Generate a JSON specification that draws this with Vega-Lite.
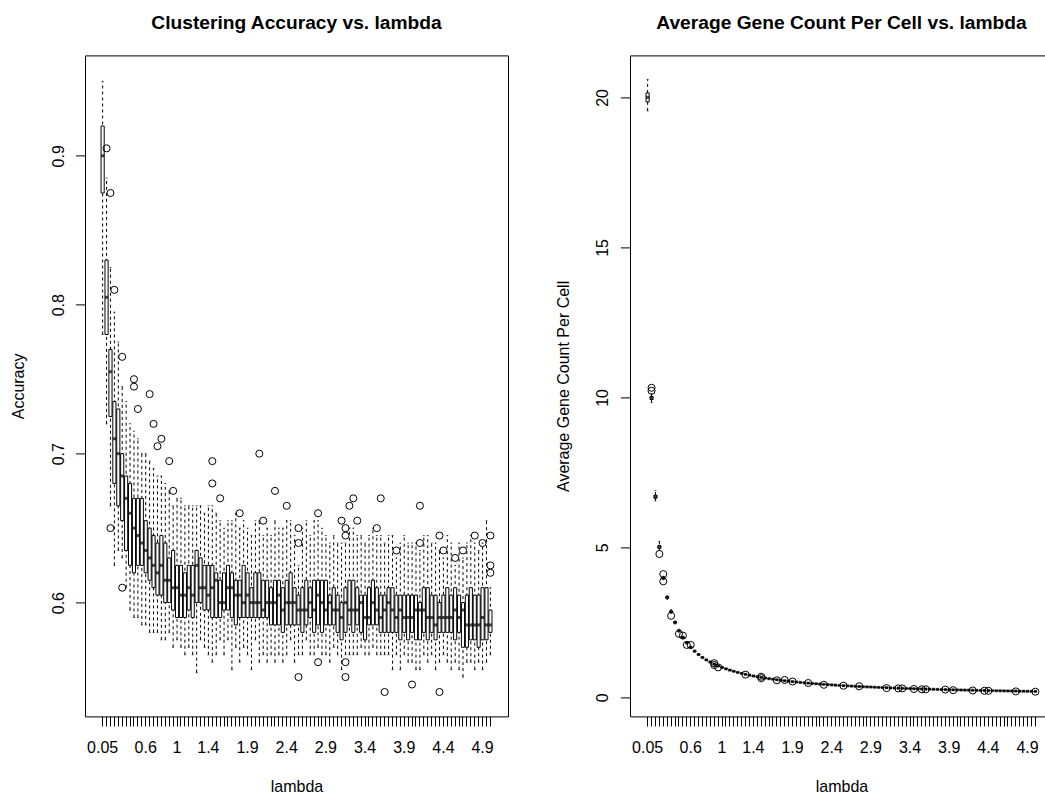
{
"$schema": "https://vega.github.io/schema/vega-lite/v6.json",
"padding": {"left": 9, "top": 12.4, "right": 0, "bottom": 0},
"spacing": 46,
"background": "white",
"resolve": {"scale": {"x": "independent", "y": "independent"}},
"config": {
 "font": "Liberation Sans",
 "view": {"stroke": "black", "strokeWidth": 1},
 "axis": {"domain": false, "grid": false, "tickColor": "black", "tickSize": 9.6, "tickWidth": 1, "labelColor": "black", "labelFontSize": 16, "labelFont": "Liberation Sans", "titleFont": "Liberation Sans", "titleFontSize": 16, "titleFontWeight": "normal", "titleColor": "black", "labelOverlap": false, "labelFlush": false, "labelBound": false},
 "axisY": {"labelAngle": -90, "labelAlign": "center", "labelBaseline": "middle", "labelPadding": 17.4, "titleBaseline": "middle", "titleAngle": -90},
 "axisX": {"labelAngle": 0, "labelAlign": "center", "labelBaseline": "middle", "labelPadding": 21.7, "titleBaseline": "middle", "titleY": 70.3},
 "title": {"fontSize": 19.2, "fontWeight": "bold", "font": "Liberation Sans", "color": "black", "anchor": "middle", "baseline": "middle", "offset": 22.4}
},
"datasets": {
 "acc": [
  {"lambda":0.05,"lo":0.78,"q1":0.875,"med":0.9,"q3":0.92,"hi":0.95},
  {"lambda":0.1,"lo":0.72,"q1":0.78,"med":0.805,"q3":0.83,"hi":0.885},
  {"lambda":0.15,"lo":0.665,"q1":0.725,"med":0.755,"q3":0.77,"hi":0.825},
  {"lambda":0.2,"lo":0.625,"q1":0.68,"med":0.71,"q3":0.735,"hi":0.795},
  {"lambda":0.25,"lo":0.635,"q1":0.665,"med":0.7,"q3":0.73,"hi":0.775},
  {"lambda":0.3,"lo":0.63,"q1":0.655,"med":0.685,"q3":0.7,"hi":0.745},
  {"lambda":0.35,"lo":0.61,"q1":0.635,"med":0.67,"q3":0.685,"hi":0.735},
  {"lambda":0.4,"lo":0.595,"q1":0.625,"med":0.66,"q3":0.68,"hi":0.72},
  {"lambda":0.45,"lo":0.59,"q1":0.62,"med":0.65,"q3":0.67,"hi":0.715},
  {"lambda":0.5,"lo":0.59,"q1":0.625,"med":0.645,"q3":0.67,"hi":0.71},
  {"lambda":0.55,"lo":0.585,"q1":0.625,"med":0.64,"q3":0.67,"hi":0.7},
  {"lambda":0.6,"lo":0.585,"q1":0.62,"med":0.635,"q3":0.655,"hi":0.7},
  {"lambda":0.65,"lo":0.58,"q1":0.615,"med":0.63,"q3":0.65,"hi":0.695},
  {"lambda":0.7,"lo":0.58,"q1":0.61,"med":0.625,"q3":0.645,"hi":0.69},
  {"lambda":0.75,"lo":0.58,"q1":0.605,"med":0.62,"q3":0.64,"hi":0.685},
  {"lambda":0.8,"lo":0.575,"q1":0.605,"med":0.625,"q3":0.645,"hi":0.685},
  {"lambda":0.85,"lo":0.575,"q1":0.6,"med":0.615,"q3":0.64,"hi":0.68},
  {"lambda":0.9,"lo":0.58,"q1":0.6,"med":0.615,"q3":0.63,"hi":0.675},
  {"lambda":0.95,"lo":0.57,"q1":0.595,"med":0.61,"q3":0.635,"hi":0.665},
  {"lambda":1,"lo":0.575,"q1":0.59,"med":0.61,"q3":0.625,"hi":0.67},
  {"lambda":1.05,"lo":0.57,"q1":0.59,"med":0.605,"q3":0.625,"hi":0.67},
  {"lambda":1.1,"lo":0.565,"q1":0.59,"med":0.605,"q3":0.62,"hi":0.665},
  {"lambda":1.15,"lo":0.57,"q1":0.595,"med":0.61,"q3":0.625,"hi":0.665},
  {"lambda":1.2,"lo":0.565,"q1":0.59,"med":0.605,"q3":0.625,"hi":0.665},
  {"lambda":1.25,"lo":0.553,"q1":0.6,"med":0.625,"q3":0.635,"hi":0.665},
  {"lambda":1.3,"lo":0.575,"q1":0.6,"med":0.61,"q3":0.63,"hi":0.665},
  {"lambda":1.35,"lo":0.57,"q1":0.595,"med":0.61,"q3":0.625,"hi":0.66},
  {"lambda":1.4,"lo":0.565,"q1":0.595,"med":0.605,"q3":0.625,"hi":0.665},
  {"lambda":1.45,"lo":0.56,"q1":0.59,"med":0.61,"q3":0.625,"hi":0.665},
  {"lambda":1.5,"lo":0.565,"q1":0.59,"med":0.615,"q3":0.62,"hi":0.66},
  {"lambda":1.55,"lo":0.575,"q1":0.59,"med":0.6,"q3":0.615,"hi":0.655},
  {"lambda":1.6,"lo":0.565,"q1":0.595,"med":0.6,"q3":0.62,"hi":0.65},
  {"lambda":1.65,"lo":0.575,"q1":0.595,"med":0.61,"q3":0.625,"hi":0.655},
  {"lambda":1.7,"lo":0.555,"q1":0.59,"med":0.61,"q3":0.62,"hi":0.655},
  {"lambda":1.75,"lo":0.57,"q1":0.585,"med":0.605,"q3":0.615,"hi":0.66},
  {"lambda":1.8,"lo":0.56,"q1":0.59,"med":0.605,"q3":0.615,"hi":0.65},
  {"lambda":1.85,"lo":0.57,"q1":0.59,"med":0.6,"q3":0.625,"hi":0.655},
  {"lambda":1.9,"lo":0.565,"q1":0.59,"med":0.605,"q3":0.62,"hi":0.65},
  {"lambda":1.95,"lo":0.555,"q1":0.59,"med":0.6,"q3":0.61,"hi":0.645},
  {"lambda":2,"lo":0.575,"q1":0.59,"med":0.6,"q3":0.62,"hi":0.655},
  {"lambda":2.05,"lo":0.56,"q1":0.59,"med":0.6,"q3":0.62,"hi":0.655},
  {"lambda":2.1,"lo":0.565,"q1":0.59,"med":0.595,"q3":0.615,"hi":0.645},
  {"lambda":2.15,"lo":0.56,"q1":0.59,"med":0.6,"q3":0.615,"hi":0.65},
  {"lambda":2.2,"lo":0.565,"q1":0.585,"med":0.6,"q3":0.61,"hi":0.645},
  {"lambda":2.25,"lo":0.56,"q1":0.585,"med":0.6,"q3":0.615,"hi":0.655},
  {"lambda":2.3,"lo":0.565,"q1":0.585,"med":0.605,"q3":0.615,"hi":0.65},
  {"lambda":2.35,"lo":0.56,"q1":0.58,"med":0.595,"q3":0.61,"hi":0.65},
  {"lambda":2.4,"lo":0.565,"q1":0.585,"med":0.6,"q3":0.615,"hi":0.655},
  {"lambda":2.45,"lo":0.575,"q1":0.585,"med":0.6,"q3":0.62,"hi":0.655},
  {"lambda":2.5,"lo":0.56,"q1":0.585,"med":0.6,"q3":0.61,"hi":0.645},
  {"lambda":2.55,"lo":0.565,"q1":0.585,"med":0.595,"q3":0.605,"hi":0.625},
  {"lambda":2.6,"lo":0.565,"q1":0.58,"med":0.595,"q3":0.61,"hi":0.65},
  {"lambda":2.65,"lo":0.575,"q1":0.585,"med":0.595,"q3":0.615,"hi":0.655},
  {"lambda":2.7,"lo":0.565,"q1":0.59,"med":0.6,"q3":0.61,"hi":0.645},
  {"lambda":2.75,"lo":0.565,"q1":0.58,"med":0.595,"q3":0.615,"hi":0.655},
  {"lambda":2.8,"lo":0.57,"q1":0.585,"med":0.605,"q3":0.615,"hi":0.655},
  {"lambda":2.85,"lo":0.565,"q1":0.58,"med":0.6,"q3":0.615,"hi":0.65},
  {"lambda":2.9,"lo":0.565,"q1":0.585,"med":0.595,"q3":0.615,"hi":0.645},
  {"lambda":2.95,"lo":0.56,"q1":0.585,"med":0.6,"q3":0.605,"hi":0.64},
  {"lambda":3,"lo":0.57,"q1":0.585,"med":0.595,"q3":0.61,"hi":0.645},
  {"lambda":3.05,"lo":0.565,"q1":0.58,"med":0.595,"q3":0.605,"hi":0.64},
  {"lambda":3.1,"lo":0.555,"q1":0.575,"med":0.59,"q3":0.6,"hi":0.64},
  {"lambda":3.15,"lo":0.565,"q1":0.58,"med":0.6,"q3":0.61,"hi":0.64},
  {"lambda":3.2,"lo":0.565,"q1":0.585,"med":0.595,"q3":0.615,"hi":0.65},
  {"lambda":3.25,"lo":0.565,"q1":0.58,"med":0.595,"q3":0.615,"hi":0.65},
  {"lambda":3.3,"lo":0.565,"q1":0.585,"med":0.595,"q3":0.61,"hi":0.645},
  {"lambda":3.35,"lo":0.57,"q1":0.58,"med":0.6,"q3":0.605,"hi":0.645},
  {"lambda":3.4,"lo":0.565,"q1":0.575,"med":0.59,"q3":0.605,"hi":0.64},
  {"lambda":3.45,"lo":0.565,"q1":0.585,"med":0.59,"q3":0.61,"hi":0.645},
  {"lambda":3.5,"lo":0.57,"q1":0.585,"med":0.6,"q3":0.615,"hi":0.65},
  {"lambda":3.55,"lo":0.565,"q1":0.585,"med":0.595,"q3":0.61,"hi":0.645},
  {"lambda":3.6,"lo":0.565,"q1":0.58,"med":0.59,"q3":0.605,"hi":0.645},
  {"lambda":3.65,"lo":0.565,"q1":0.58,"med":0.595,"q3":0.605,"hi":0.64},
  {"lambda":3.7,"lo":0.565,"q1":0.58,"med":0.6,"q3":0.61,"hi":0.645},
  {"lambda":3.75,"lo":0.555,"q1":0.58,"med":0.595,"q3":0.61,"hi":0.645},
  {"lambda":3.8,"lo":0.565,"q1":0.58,"med":0.59,"q3":0.605,"hi":0.63},
  {"lambda":3.85,"lo":0.555,"q1":0.575,"med":0.595,"q3":0.605,"hi":0.64},
  {"lambda":3.9,"lo":0.565,"q1":0.58,"med":0.59,"q3":0.605,"hi":0.645},
  {"lambda":3.95,"lo":0.56,"q1":0.575,"med":0.59,"q3":0.605,"hi":0.64},
  {"lambda":4,"lo":0.56,"q1":0.58,"med":0.59,"q3":0.605,"hi":0.64},
  {"lambda":4.05,"lo":0.555,"q1":0.575,"med":0.595,"q3":0.605,"hi":0.64},
  {"lambda":4.1,"lo":0.555,"q1":0.575,"med":0.595,"q3":0.6,"hi":0.635},
  {"lambda":4.15,"lo":0.565,"q1":0.58,"med":0.595,"q3":0.61,"hi":0.645},
  {"lambda":4.2,"lo":0.56,"q1":0.575,"med":0.59,"q3":0.61,"hi":0.645},
  {"lambda":4.25,"lo":0.565,"q1":0.58,"med":0.59,"q3":0.605,"hi":0.64},
  {"lambda":4.3,"lo":0.555,"q1":0.575,"med":0.585,"q3":0.605,"hi":0.64},
  {"lambda":4.35,"lo":0.56,"q1":0.58,"med":0.59,"q3":0.6,"hi":0.635},
  {"lambda":4.4,"lo":0.565,"q1":0.58,"med":0.59,"q3":0.605,"hi":0.63},
  {"lambda":4.45,"lo":0.56,"q1":0.58,"med":0.59,"q3":0.61,"hi":0.645},
  {"lambda":4.5,"lo":0.555,"q1":0.58,"med":0.59,"q3":0.605,"hi":0.64},
  {"lambda":4.55,"lo":0.56,"q1":0.575,"med":0.595,"q3":0.61,"hi":0.625},
  {"lambda":4.6,"lo":0.555,"q1":0.58,"med":0.59,"q3":0.605,"hi":0.64},
  {"lambda":4.65,"lo":0.55,"q1":0.57,"med":0.595,"q3":0.6,"hi":0.63},
  {"lambda":4.7,"lo":0.56,"q1":0.57,"med":0.585,"q3":0.605,"hi":0.64},
  {"lambda":4.75,"lo":0.56,"q1":0.575,"med":0.585,"q3":0.61,"hi":0.645},
  {"lambda":4.8,"lo":0.555,"q1":0.575,"med":0.585,"q3":0.605,"hi":0.64},
  {"lambda":4.85,"lo":0.56,"q1":0.57,"med":0.585,"q3":0.605,"hi":0.635},
  {"lambda":4.9,"lo":0.555,"q1":0.575,"med":0.59,"q3":0.61,"hi":0.64},
  {"lambda":4.95,"lo":0.56,"q1":0.575,"med":0.585,"q3":0.61,"hi":0.655},
  {"lambda":5,"lo":0.565,"q1":0.58,"med":0.585,"q3":0.595,"hi":0.61}
 ],
 "accOut": [
  {"lambda":0.1,"value":0.905},{"lambda":0.15,"value":0.875},{"lambda":0.15,"value":0.65},{"lambda":0.2,"value":0.81},
  {"lambda":0.3,"value":0.765},{"lambda":0.3,"value":0.61},{"lambda":0.45,"value":0.75},{"lambda":0.45,"value":0.745},
  {"lambda":0.5,"value":0.73},{"lambda":0.65,"value":0.74},{"lambda":0.7,"value":0.72},{"lambda":0.75,"value":0.705},
  {"lambda":0.8,"value":0.71},{"lambda":0.9,"value":0.695},{"lambda":0.95,"value":0.675},{"lambda":1.45,"value":0.695},
  {"lambda":1.45,"value":0.68},{"lambda":1.55,"value":0.67},{"lambda":1.8,"value":0.66},{"lambda":2.05,"value":0.7},
  {"lambda":2.1,"value":0.655},{"lambda":2.25,"value":0.675},{"lambda":2.4,"value":0.665},{"lambda":2.55,"value":0.65},
  {"lambda":2.55,"value":0.64},{"lambda":2.55,"value":0.55},{"lambda":2.8,"value":0.66},{"lambda":2.8,"value":0.56},
  {"lambda":3.1,"value":0.655},{"lambda":3.15,"value":0.65},{"lambda":3.15,"value":0.645},{"lambda":3.15,"value":0.56},
  {"lambda":3.15,"value":0.55},{"lambda":3.2,"value":0.665},{"lambda":3.25,"value":0.67},{"lambda":3.3,"value":0.655},
  {"lambda":3.55,"value":0.65},{"lambda":3.6,"value":0.67},{"lambda":3.65,"value":0.54},{"lambda":3.8,"value":0.635},
  {"lambda":4,"value":0.545},{"lambda":4.1,"value":0.665},{"lambda":4.1,"value":0.64},{"lambda":4.35,"value":0.645},
  {"lambda":4.35,"value":0.54},{"lambda":4.4,"value":0.635},{"lambda":4.55,"value":0.63},{"lambda":4.65,"value":0.635},
  {"lambda":4.8,"value":0.645},{"lambda":4.9,"value":0.64},{"lambda":5,"value":0.645},{"lambda":5,"value":0.625},
  {"lambda":5,"value":0.62}
 ],
 "genes": [
  {"lambda":0.05,"lo":19.55,"q1":19.85,"med":20.0,"q3":20.15,"hi":20.6},
  {"lambda":0.1,"lo":9.83,"q1":9.93,"med":9.98,"q3":10.03,"hi":10.12},
  {"lambda":0.15,"lo":6.55,"q1":6.64,"med":6.69,"q3":6.74,"hi":6.9},
  {"lambda":0.2,"lo":4.9,"q1":4.97,"med":5.01,"q3":5.06,"hi":5.2},
  {"lambda":0.25,"lo":3.93,"q1":3.95,"med":3.98,"q3":4.01,"hi":4.04},
  {"lambda":0.3,"lo":3.27,"q1":3.31,"med":3.33,"q3":3.36,"hi":3.4},
  {"lambda":0.35,"lo":2.8,"q1":2.84,"med":2.86,"q3":2.88,"hi":2.93},
  {"lambda":0.4,"lo":2.45,"q1":2.48,"med":2.5,"q3":2.52,"hi":2.55},
  {"lambda":0.45,"lo":2.18,"q1":2.21,"med":2.22,"q3":2.24,"hi":2.27},
  {"lambda":0.5,"lo":1.96,"q1":1.98,"med":2.0,"q3":2.01,"hi":2.03},
  {"lambda":0.55,"lo":1.79,"q1":1.81,"med":1.82,"q3":1.83,"hi":1.85},
  {"lambda":0.6,"lo":1.64,"q1":1.66,"med":1.67,"q3":1.68,"hi":1.7},
  {"lambda":0.65,"lo":1.51,"q1":1.53,"med":1.54,"q3":1.55,"hi":1.57},
  {"lambda":0.7,"lo":1.41,"q1":1.42,"med":1.43,"q3":1.44,"hi":1.46},
  {"lambda":0.75,"lo":1.31,"q1":1.32,"med":1.33,"q3":1.34,"hi":1.36},
  {"lambda":0.8,"lo":1.23,"q1":1.24,"med":1.25,"q3":1.26,"hi":1.27},
  {"lambda":0.85,"lo":1.16,"q1":1.17,"med":1.18,"q3":1.19,"hi":1.2},
  {"lambda":0.9,"lo":1.09,"q1":1.1,"med":1.11,"q3":1.12,"hi":1.13},
  {"lambda":0.95,"lo":1.03,"q1":1.04,"med":1.05,"q3":1.06,"hi":1.07},
  {"lambda":1,"lo":0.98,"q1":0.99,"med":1.0,"q3":1.01,"hi":1.02},
  {"lambda":1.05,"lo":0.937,"q1":0.947,"med":0.952,"q3":0.957,"hi":0.967},
  {"lambda":1.1,"lo":0.894,"q1":0.904,"med":0.909,"q3":0.914,"hi":0.924},
  {"lambda":1.15,"lo":0.855,"q1":0.865,"med":0.87,"q3":0.875,"hi":0.885},
  {"lambda":1.2,"lo":0.818,"q1":0.828,"med":0.833,"q3":0.838,"hi":0.848},
  {"lambda":1.25,"lo":0.785,"q1":0.795,"med":0.8,"q3":0.805,"hi":0.815},
  {"lambda":1.3,"lo":0.754,"q1":0.764,"med":0.769,"q3":0.774,"hi":0.784},
  {"lambda":1.35,"lo":0.726,"q1":0.736,"med":0.741,"q3":0.746,"hi":0.756},
  {"lambda":1.4,"lo":0.699,"q1":0.709,"med":0.714,"q3":0.719,"hi":0.729},
  {"lambda":1.45,"lo":0.675,"q1":0.685,"med":0.69,"q3":0.695,"hi":0.705},
  {"lambda":1.5,"lo":0.652,"q1":0.662,"med":0.667,"q3":0.672,"hi":0.682},
  {"lambda":1.55,"lo":0.633,"q1":0.641,"med":0.645,"q3":0.649,"hi":0.657},
  {"lambda":1.6,"lo":0.613,"q1":0.621,"med":0.625,"q3":0.629,"hi":0.637},
  {"lambda":1.65,"lo":0.594,"q1":0.602,"med":0.606,"q3":0.61,"hi":0.618},
  {"lambda":1.7,"lo":0.576,"q1":0.584,"med":0.588,"q3":0.592,"hi":0.6},
  {"lambda":1.75,"lo":0.559,"q1":0.567,"med":0.571,"q3":0.575,"hi":0.583},
  {"lambda":1.8,"lo":0.544,"q1":0.552,"med":0.556,"q3":0.56,"hi":0.568},
  {"lambda":1.85,"lo":0.529,"q1":0.537,"med":0.541,"q3":0.545,"hi":0.553},
  {"lambda":1.9,"lo":0.514,"q1":0.522,"med":0.526,"q3":0.53,"hi":0.538},
  {"lambda":1.95,"lo":0.501,"q1":0.509,"med":0.513,"q3":0.517,"hi":0.525},
  {"lambda":2,"lo":0.488,"q1":0.496,"med":0.5,"q3":0.504,"hi":0.512},
  {"lambda":2.05,"lo":0.476,"q1":0.484,"med":0.488,"q3":0.492,"hi":0.5},
  {"lambda":2.1,"lo":0.464,"q1":0.472,"med":0.476,"q3":0.48,"hi":0.488},
  {"lambda":2.15,"lo":0.453,"q1":0.461,"med":0.465,"q3":0.469,"hi":0.477},
  {"lambda":2.2,"lo":0.443,"q1":0.451,"med":0.455,"q3":0.459,"hi":0.467},
  {"lambda":2.25,"lo":0.432,"q1":0.44,"med":0.444,"q3":0.448,"hi":0.456},
  {"lambda":2.3,"lo":0.423,"q1":0.431,"med":0.435,"q3":0.439,"hi":0.447},
  {"lambda":2.35,"lo":0.414,"q1":0.422,"med":0.426,"q3":0.43,"hi":0.438},
  {"lambda":2.4,"lo":0.405,"q1":0.413,"med":0.417,"q3":0.421,"hi":0.429},
  {"lambda":2.45,"lo":0.396,"q1":0.404,"med":0.408,"q3":0.412,"hi":0.42},
  {"lambda":2.5,"lo":0.388,"q1":0.396,"med":0.4,"q3":0.404,"hi":0.412},
  {"lambda":2.55,"lo":0.38,"q1":0.388,"med":0.392,"q3":0.396,"hi":0.404},
  {"lambda":2.6,"lo":0.373,"q1":0.381,"med":0.385,"q3":0.389,"hi":0.397},
  {"lambda":2.65,"lo":0.365,"q1":0.373,"med":0.377,"q3":0.381,"hi":0.389},
  {"lambda":2.7,"lo":0.358,"q1":0.366,"med":0.37,"q3":0.374,"hi":0.382},
  {"lambda":2.75,"lo":0.352,"q1":0.36,"med":0.364,"q3":0.368,"hi":0.376},
  {"lambda":2.8,"lo":0.345,"q1":0.353,"med":0.357,"q3":0.361,"hi":0.369},
  {"lambda":2.85,"lo":0.339,"q1":0.347,"med":0.351,"q3":0.355,"hi":0.363},
  {"lambda":2.9,"lo":0.333,"q1":0.341,"med":0.345,"q3":0.349,"hi":0.357},
  {"lambda":2.95,"lo":0.327,"q1":0.335,"med":0.339,"q3":0.343,"hi":0.351},
  {"lambda":3,"lo":0.321,"q1":0.329,"med":0.333,"q3":0.337,"hi":0.345},
  {"lambda":3.05,"lo":0.316,"q1":0.324,"med":0.328,"q3":0.332,"hi":0.34},
  {"lambda":3.1,"lo":0.311,"q1":0.319,"med":0.323,"q3":0.327,"hi":0.335},
  {"lambda":3.15,"lo":0.305,"q1":0.313,"med":0.317,"q3":0.321,"hi":0.329},
  {"lambda":3.2,"lo":0.3,"q1":0.308,"med":0.312,"q3":0.316,"hi":0.324},
  {"lambda":3.25,"lo":0.296,"q1":0.304,"med":0.308,"q3":0.312,"hi":0.32},
  {"lambda":3.3,"lo":0.291,"q1":0.299,"med":0.303,"q3":0.307,"hi":0.315},
  {"lambda":3.35,"lo":0.287,"q1":0.295,"med":0.299,"q3":0.303,"hi":0.311},
  {"lambda":3.4,"lo":0.282,"q1":0.29,"med":0.294,"q3":0.298,"hi":0.306},
  {"lambda":3.45,"lo":0.278,"q1":0.286,"med":0.29,"q3":0.294,"hi":0.302},
  {"lambda":3.5,"lo":0.274,"q1":0.282,"med":0.286,"q3":0.29,"hi":0.298},
  {"lambda":3.55,"lo":0.27,"q1":0.278,"med":0.282,"q3":0.286,"hi":0.294},
  {"lambda":3.6,"lo":0.266,"q1":0.274,"med":0.278,"q3":0.282,"hi":0.29},
  {"lambda":3.65,"lo":0.262,"q1":0.27,"med":0.274,"q3":0.278,"hi":0.286},
  {"lambda":3.7,"lo":0.258,"q1":0.266,"med":0.27,"q3":0.274,"hi":0.282},
  {"lambda":3.75,"lo":0.255,"q1":0.263,"med":0.267,"q3":0.271,"hi":0.279},
  {"lambda":3.8,"lo":0.251,"q1":0.259,"med":0.263,"q3":0.267,"hi":0.275},
  {"lambda":3.85,"lo":0.248,"q1":0.256,"med":0.26,"q3":0.264,"hi":0.272},
  {"lambda":3.9,"lo":0.244,"q1":0.252,"med":0.256,"q3":0.26,"hi":0.268},
  {"lambda":3.95,"lo":0.241,"q1":0.249,"med":0.253,"q3":0.257,"hi":0.265},
  {"lambda":4,"lo":0.238,"q1":0.246,"med":0.25,"q3":0.254,"hi":0.262},
  {"lambda":4.05,"lo":0.235,"q1":0.243,"med":0.247,"q3":0.251,"hi":0.259},
  {"lambda":4.1,"lo":0.232,"q1":0.24,"med":0.244,"q3":0.248,"hi":0.256},
  {"lambda":4.15,"lo":0.229,"q1":0.237,"med":0.241,"q3":0.245,"hi":0.253},
  {"lambda":4.2,"lo":0.226,"q1":0.234,"med":0.238,"q3":0.242,"hi":0.25},
  {"lambda":4.25,"lo":0.223,"q1":0.231,"med":0.235,"q3":0.239,"hi":0.247},
  {"lambda":4.3,"lo":0.221,"q1":0.229,"med":0.233,"q3":0.237,"hi":0.245},
  {"lambda":4.35,"lo":0.218,"q1":0.226,"med":0.23,"q3":0.234,"hi":0.242},
  {"lambda":4.4,"lo":0.215,"q1":0.223,"med":0.227,"q3":0.231,"hi":0.239},
  {"lambda":4.45,"lo":0.213,"q1":0.221,"med":0.225,"q3":0.229,"hi":0.237},
  {"lambda":4.5,"lo":0.21,"q1":0.218,"med":0.222,"q3":0.226,"hi":0.234},
  {"lambda":4.55,"lo":0.208,"q1":0.216,"med":0.22,"q3":0.224,"hi":0.232},
  {"lambda":4.6,"lo":0.205,"q1":0.213,"med":0.217,"q3":0.221,"hi":0.229},
  {"lambda":4.65,"lo":0.203,"q1":0.211,"med":0.215,"q3":0.219,"hi":0.227},
  {"lambda":4.7,"lo":0.201,"q1":0.209,"med":0.213,"q3":0.217,"hi":0.225},
  {"lambda":4.75,"lo":0.199,"q1":0.207,"med":0.211,"q3":0.215,"hi":0.223},
  {"lambda":4.8,"lo":0.196,"q1":0.204,"med":0.208,"q3":0.212,"hi":0.22},
  {"lambda":4.85,"lo":0.194,"q1":0.202,"med":0.206,"q3":0.21,"hi":0.218},
  {"lambda":4.9,"lo":0.192,"q1":0.2,"med":0.204,"q3":0.208,"hi":0.216},
  {"lambda":4.95,"lo":0.19,"q1":0.198,"med":0.202,"q3":0.206,"hi":0.214},
  {"lambda":5,"lo":0.188,"q1":0.196,"med":0.2,"q3":0.204,"hi":0.212}
 ],
 "genesOut": [
  {"lambda":0.1,"value":10.32},{"lambda":0.1,"value":10.22},{"lambda":0.2,"value":4.78},{"lambda":0.25,"value":4.11},
  {"lambda":0.25,"value":3.87},{"lambda":0.35,"value":2.72},{"lambda":0.45,"value":2.12},{"lambda":0.5,"value":2.06},
  {"lambda":0.55,"value":1.75},{"lambda":0.6,"value":1.75},{"lambda":0.9,"value":1.14},{"lambda":0.9,"value":1.08},
  {"lambda":0.95,"value":1.0},{"lambda":1.3,"value":0.76},{"lambda":1.5,"value":0.69},{"lambda":1.5,"value":0.64},
  {"lambda":1.7,"value":0.57},{"lambda":1.8,"value":0.58},{"lambda":1.9,"value":0.53},{"lambda":2.1,"value":0.48},
  {"lambda":2.3,"value":0.42},{"lambda":2.55,"value":0.39},{"lambda":2.75,"value":0.37},{"lambda":3.1,"value":0.31},
  {"lambda":3.25,"value":0.3},{"lambda":3.3,"value":0.3},{"lambda":3.45,"value":0.28},{"lambda":3.55,"value":0.27},
  {"lambda":3.6,"value":0.27},{"lambda":3.85,"value":0.26},{"lambda":3.95,"value":0.24},{"lambda":4.2,"value":0.23},
  {"lambda":4.35,"value":0.22},{"lambda":4.4,"value":0.22},{"lambda":4.75,"value":0.2},{"lambda":5,"value":0.19}
 ]
},
"hconcat": [
 {
  "width": 423, "height": 661,
  "title": {"text": "Clustering Accuracy vs. lambda"},
  "data": {"name": "acc"},
  "encoding": {"x": {"field": "lambda", "type": "ordinal", "title": "lambda", "scale": {"paddingInner": 0, "paddingOuter": 0, "range": [15.67, 407.37]}, "axis": {"labelExpr": "indexof([0.05,0.6,1,1.4,1.9,2.4,2.9,3.4,3.9,4.4,4.9], datum.value) >= 0 ? datum.label : ''", "titleX": 211.5}}},
  "layer": [
   {"mark": {"type": "rule", "strokeDash": [3, 3], "color": "black", "strokeWidth": 1},
    "encoding": {"y": {"field": "lo", "type": "quantitative", "title": "Accuracy", "scale": {"domain": [0.5236, 0.9674], "nice": false, "zero": false}, "axis": {"values": [0.6, 0.7, 0.8, 0.9], "format": ".1f", "titleX": -67}}, "y2": {"field": "hi"}}},
   {"mark": {"type": "tick", "color": "black", "thickness": 1, "size": 1.8},
    "encoding": {"y": {"field": "lo", "type": "quantitative", "title": "Accuracy", "scale": {"domain": [0.5236, 0.9674], "nice": false, "zero": false}, "axis": {"values": [0.6, 0.7, 0.8, 0.9], "format": ".1f", "titleX": -67}}}},
   {"mark": {"type": "tick", "color": "black", "thickness": 1, "size": 1.8},
    "encoding": {"y": {"field": "hi", "type": "quantitative", "title": "Accuracy", "scale": {"domain": [0.5236, 0.9674], "nice": false, "zero": false}, "axis": {"values": [0.6, 0.7, 0.8, 0.9], "format": ".1f", "titleX": -67}}}},
   {"mark": {"type": "bar", "fill": "white", "stroke": "black", "strokeWidth": 1, "width": {"band": 0.8}},
    "encoding": {"y": {"field": "q1", "type": "quantitative", "title": "Accuracy", "scale": {"domain": [0.5236, 0.9674], "nice": false, "zero": false}, "axis": {"values": [0.6, 0.7, 0.8, 0.9], "format": ".1f", "titleX": -67}}, "y2": {"field": "q3"}}},
   {"mark": {"type": "tick", "color": "black", "thickness": 3, "size": 3.2},
    "encoding": {"y": {"field": "med", "type": "quantitative", "title": "Accuracy", "scale": {"domain": [0.5236, 0.9674], "nice": false, "zero": false}, "axis": {"values": [0.6, 0.7, 0.8, 0.9], "format": ".1f", "titleX": -67}}}},
   {"data": {"name": "accOut"},
    "mark": {"type": "point", "shape": "circle", "filled": false, "size": 50, "color": "black", "strokeWidth": 1, "opacity": 1},
    "encoding": {"y": {"field": "value", "type": "quantitative", "title": "Accuracy", "scale": {"domain": [0.5236, 0.9674], "nice": false, "zero": false}, "axis": {"values": [0.6, 0.7, 0.8, 0.9], "format": ".1f", "titleX": -67}}}}
  ]
 },
 {
  "width": 423, "height": 661,
  "title": {"text": "Average Gene Count Per Cell vs. lambda"},
  "data": {"name": "genes"},
  "encoding": {"x": {"field": "lambda", "type": "ordinal", "title": "lambda", "scale": {"paddingInner": 0, "paddingOuter": 0, "range": [15.67, 407.37]}, "axis": {"labelExpr": "indexof([0.05,0.6,1,1.4,1.9,2.4,2.9,3.4,3.9,4.4,4.9], datum.value) >= 0 ? datum.label : ''", "titleX": 211.5}}},
  "layer": [
   {"mark": {"type": "rule", "strokeDash": [3, 3], "color": "black", "strokeWidth": 1},
    "encoding": {"y": {"field": "lo", "type": "quantitative", "title": "Average Gene Count Per Cell", "scale": {"domain": [-0.633, 21.4], "nice": false, "zero": false}, "axis": {"values": [0, 5, 10, 15, 20], "format": "d", "titleX": -66}}, "y2": {"field": "hi"}}},
   {"mark": {"type": "tick", "color": "black", "thickness": 1, "size": 1.8},
    "encoding": {"y": {"field": "lo", "type": "quantitative", "title": "Average Gene Count Per Cell", "scale": {"domain": [-0.633, 21.4], "nice": false, "zero": false}, "axis": {"values": [0, 5, 10, 15, 20], "format": "d", "titleX": -66}}}},
   {"mark": {"type": "tick", "color": "black", "thickness": 1, "size": 1.8},
    "encoding": {"y": {"field": "hi", "type": "quantitative", "title": "Average Gene Count Per Cell", "scale": {"domain": [-0.633, 21.4], "nice": false, "zero": false}, "axis": {"values": [0, 5, 10, 15, 20], "format": "d", "titleX": -66}}}},
   {"mark": {"type": "bar", "fill": "white", "stroke": "black", "strokeWidth": 1, "width": {"band": 0.8}},
    "encoding": {"y": {"field": "q1", "type": "quantitative", "title": "Average Gene Count Per Cell", "scale": {"domain": [-0.633, 21.4], "nice": false, "zero": false}, "axis": {"values": [0, 5, 10, 15, 20], "format": "d", "titleX": -66}}, "y2": {"field": "q3"}}},
   {"mark": {"type": "tick", "color": "black", "thickness": 3, "size": 3.2},
    "encoding": {"y": {"field": "med", "type": "quantitative", "title": "Average Gene Count Per Cell", "scale": {"domain": [-0.633, 21.4], "nice": false, "zero": false}, "axis": {"values": [0, 5, 10, 15, 20], "format": "d", "titleX": -66}}}},
   {"data": {"name": "genesOut"},
    "mark": {"type": "point", "shape": "circle", "filled": false, "size": 50, "color": "black", "strokeWidth": 1, "opacity": 1},
    "encoding": {"y": {"field": "value", "type": "quantitative", "title": "Average Gene Count Per Cell", "scale": {"domain": [-0.633, 21.4], "nice": false, "zero": false}, "axis": {"values": [0, 5, 10, 15, 20], "format": "d", "titleX": -66}}}}
  ]
 }
]
}
